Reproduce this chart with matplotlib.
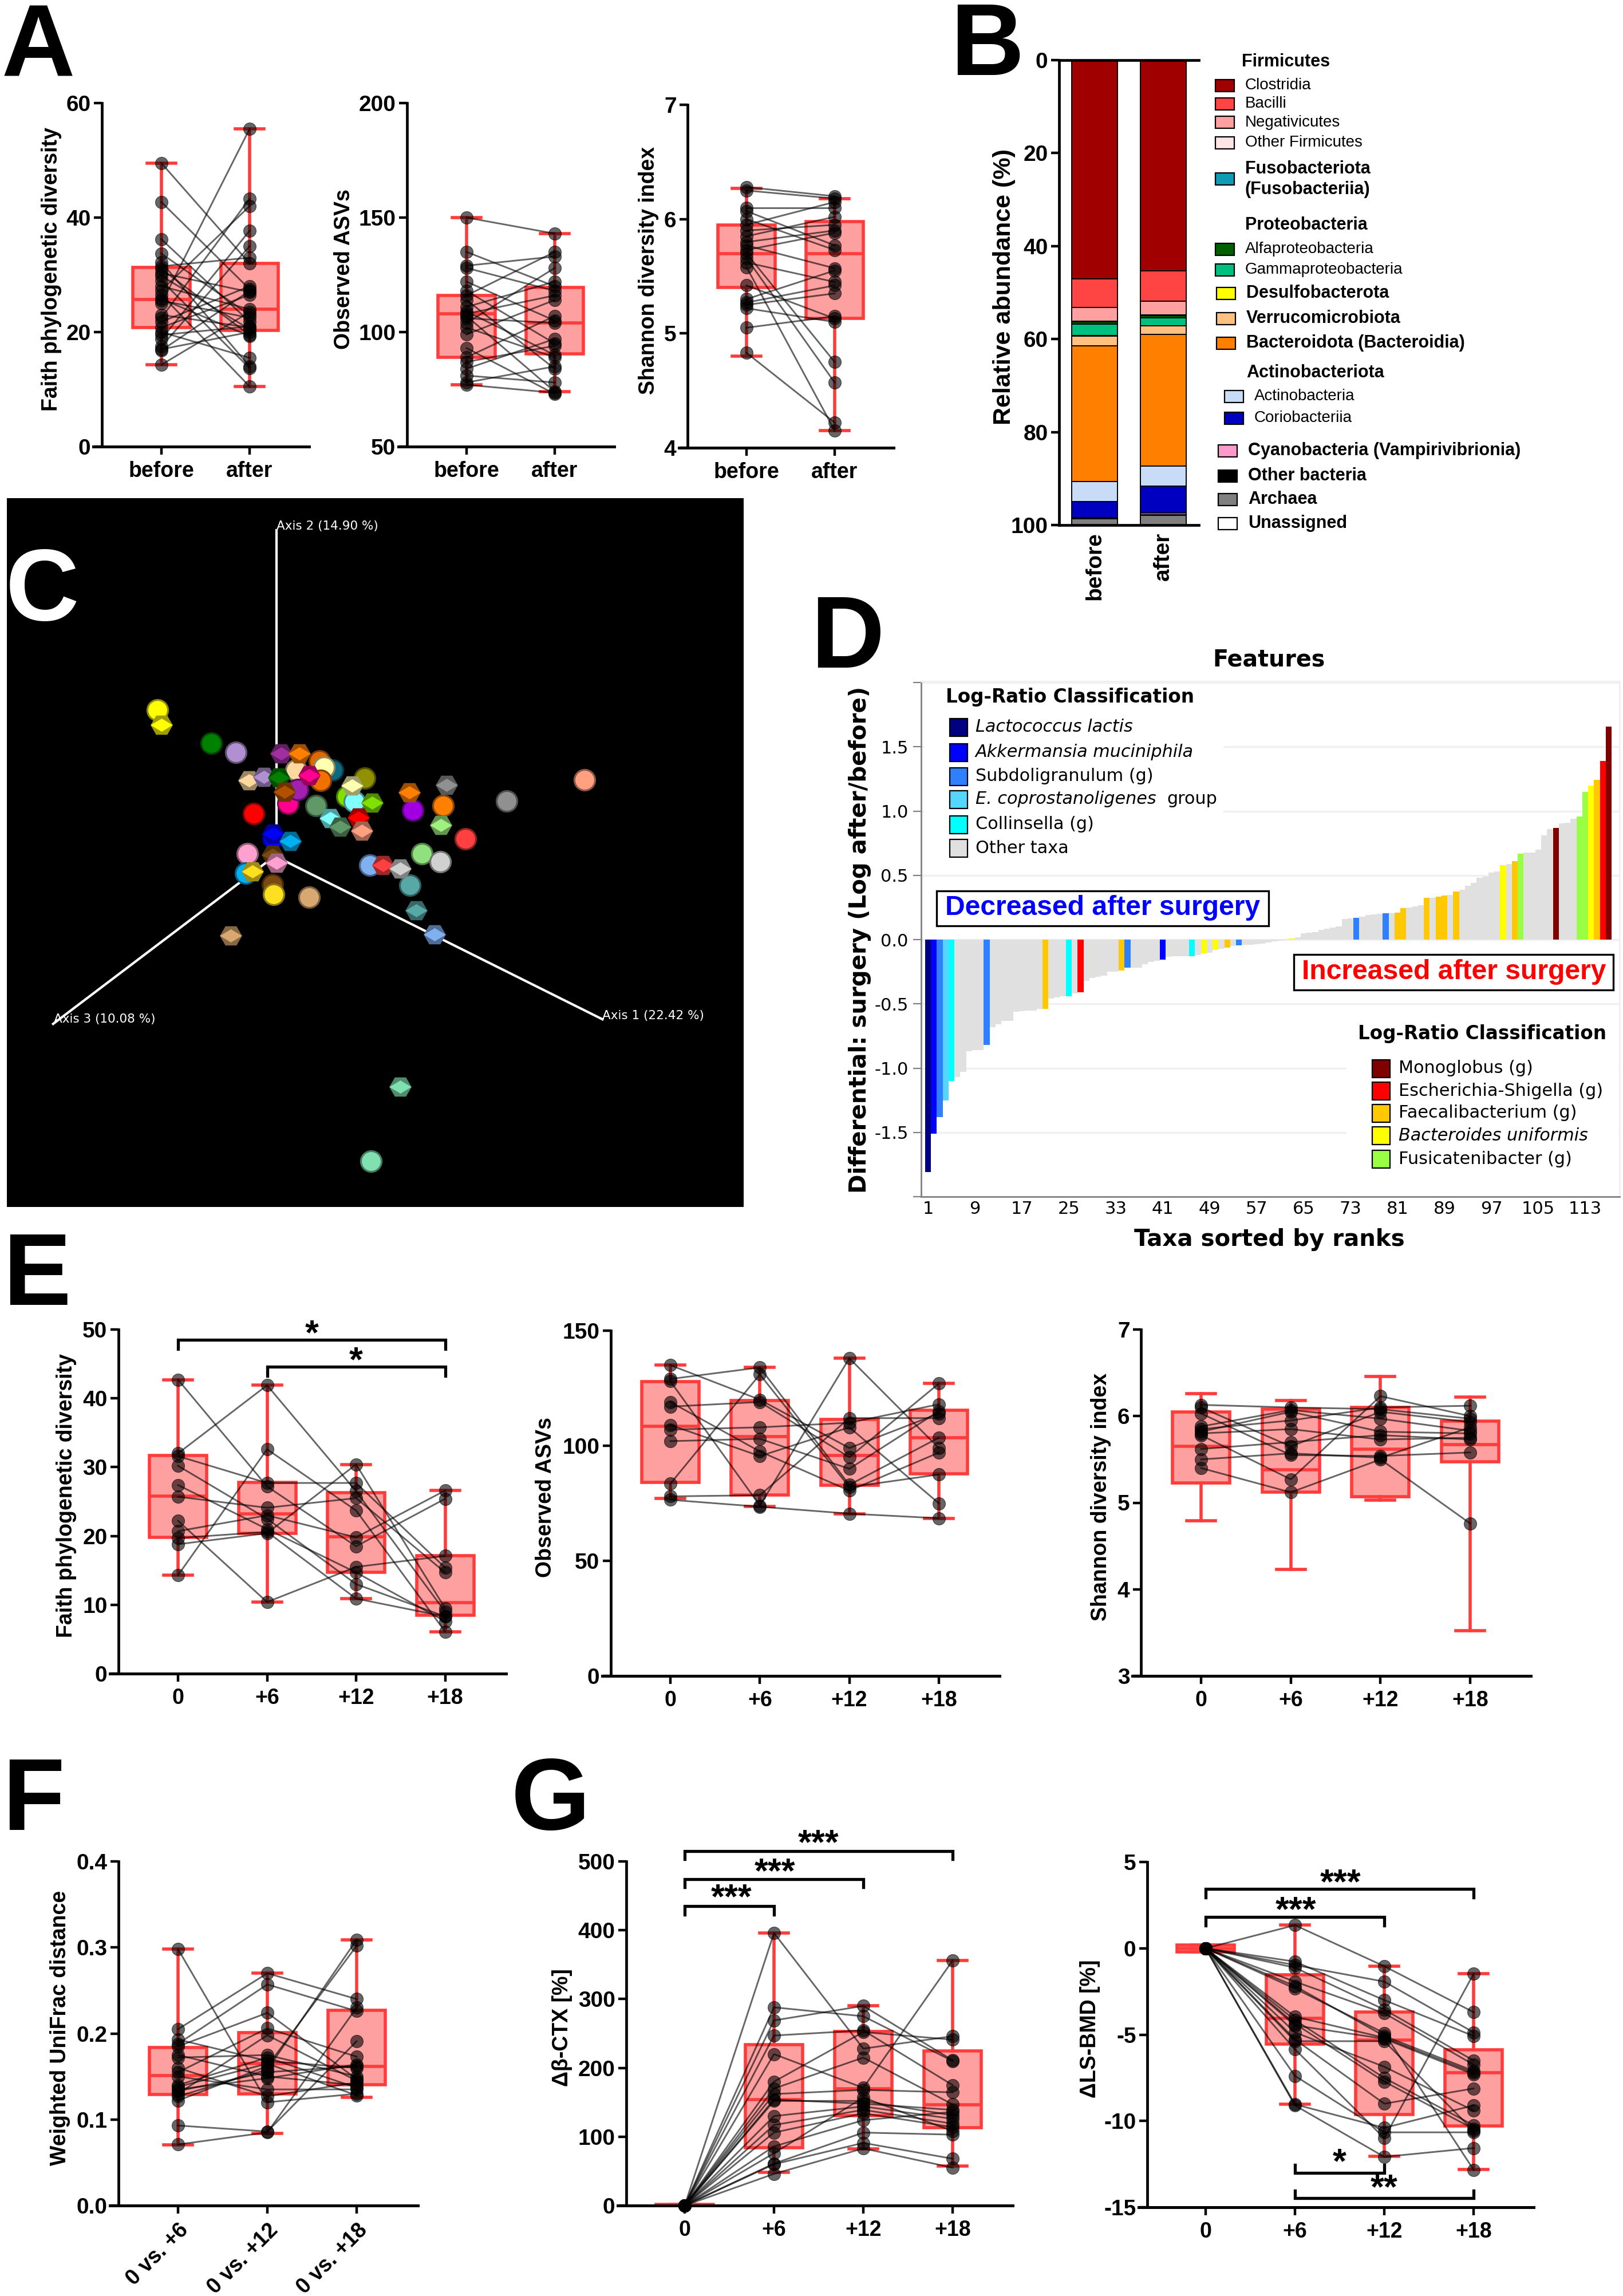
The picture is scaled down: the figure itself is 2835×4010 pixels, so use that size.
import numpy as np
import matplotlib
matplotlib.use("Agg")
import matplotlib.pyplot as plt
from matplotlib.colors import to_rgb
from matplotlib.patches import Rectangle
from matplotlib.path import Path
from matplotlib.transforms import ScaledTranslation

plt.rcParams["font.family"] = ["Liberation Sans", "DejaVu Sans"]

W, H = 2835, 4010
RED = "#FF3C3C"
FILL = "#FFA0A0"

# ---- panel A
groups_ab = ["before", "after"]
faith_before = [49.5, 42.7, 36.2, 33.7, 32.2, 31.5, 31.0, 30.3, 29.8, 29.0, 28.0, 27.3, 26.5, 25.8,
                25.5, 25.0, 23.0, 22.5, 21.8, 20.8, 20.0, 19.5, 18.8, 17.5, 17.0, 16.8, 14.3]
faith_after = [32.0, 27.5, 21.8, 23.0, 14.0, 33.0, 19.5, 27.0, 20.5, 13.7, 24.0, 42.0, 10.5, 19.3,
               22.5, 55.5, 20.8, 43.3, 28.0, 26.5, 15.5, 21.0, 37.7, 35.0, 20.0, 27.2, 23.5]
faith_box = [[20.8, 25.7, 31.3, 14.3, 49.5], [20.3, 24.0, 32.0, 10.5, 55.5]]
asv_before = [150, 135, 129, 128, 122, 118, 116, 114, 111, 109, 108, 107, 106, 104, 102, 99, 93, 89,
              87, 84, 81, 78, 77]
asv_after = [143, 120, 133, 118, 105, 95, 135, 84, 122, 90, 116, 74, 104, 128, 89, 114, 73, 107, 94,
             97, 78, 85, 73.5]
asv_box = [[89, 108, 116, 77, 150], [90.5, 104, 119.5, 74, 143]]
shannon_before = [6.28, 6.25, 6.10, 6.07, 6.00, 5.95, 5.90, 5.85, 5.80, 5.77, 5.73, 5.70, 5.66, 5.62,
                  5.58, 5.42, 5.30, 5.27, 5.25, 5.22, 5.05, 4.83]
shannon_after = [6.20, 6.18, 6.10, 5.77, 5.73, 6.15, 5.95, 6.02, 5.90, 5.57, 5.88, 4.75, 4.57, 5.45,
                 4.15, 5.13, 5.55, 5.42, 5.35, 5.10, 5.15, 4.22]
shannon_box = [[5.40, 5.70, 5.95, 4.80, 6.27], [5.13, 5.70, 5.98, 4.15, 6.18]]

# ---- panel B
taxa_colors = ["#A00000", "#FF4444", "#FFA0A0", "#FFE4E4", "#0E9BB5", "#006000", "#00C080", "#FFFF00",
               "#FFC080", "#FF8000", "#C8DCF8", "#0000C0", "#FF99CC", "#000000", "#808080", "#FFFFFF"]
taxa_before = [47.1, 6.1, 3.0, 0.1, 0.0, 0.5, 2.4, 0.1, 2.1, 29.3, 4.3, 3.4, 0.1, 0.2, 1.3, 0.0]
taxa_after = [45.3, 6.6, 2.9, 0.1, 0.0, 0.5, 1.7, 0.1, 1.8, 28.3, 4.3, 5.8, 0.4, 0.1, 2.1, 0.0]

# ---- panel C (ordination, read in zoomed picture units)
sphere_x = [327, 438, 489, 663, 690, 672, 614, 757, 665, 1213, 1051, 919, 856, 597, 655, 526, 720, 735,
            618, 966, 875, 913, 767, 513, 509, 850, 567, 565, 568, 641, 770]
sphere_y = [473, 545, 565, 583, 603, 597, 603, 621, 626, 625, 671, 680, 690, 676, 681, 698, 661, 672,
            645, 753, 785, 803, 810, 785, 827, 853, 752, 852, 873, 880, 1454]
sphere_c = ["#FFFF00", "#008000", "#B090D0", "#E06800", "#106880", "#FFFFB0", "#FFD8A0", "#909000",
            "#F07000", "#FFA080", "#909090", "#FF8000", "#A000E0", "#FF0090", "#609868", "#FF0000",
            "#80E000", "#80FFFF", "#A020B0", "#FF4040", "#90E080", "#D0D0D0", "#80B0F0", "#FFA0D0",
            "#00B0F0", "#58A8A8", "#0000FF", "#7A4A10", "#FFE020", "#D8A870", "#80E0B0"]
hex_x = [335, 583, 621, 517, 548, 578, 641, 730, 590, 849, 926, 772, 914, 685, 706, 743, 751, 567, 602,
         565, 573, 524, 795, 830, 863, 902, 479, 830]
hex_y = [505, 567, 567, 626, 618, 620, 615, 637, 650, 652, 636, 674, 723, 708, 727, 706, 735, 742, 758,
         787, 805, 823, 810, 817, 908, 960, 963, 1292]
hex_c = ["#FFFF00", "#A030A0", "#FF8000", "#FFD8A0", "#B090D0", "#008000", "#FF0090", "#FFFFB0",
         "#B05000", "#FF8000", "#909090", "#80E000", "#A0F080", "#80FFFF", "#609868", "#FF0000",
         "#FFA080", "#0000FF", "#00B0F0", "#7A4A10", "#FFA0D0", "#FFE020", "#FF4040", "#D0D0D0",
         "#58A8A8", "#80B0F0", "#D8A870", "#80E0B0"]

# ---- panel D
rank_values = [-1.81, -1.51, -1.38, -1.25, -1.10, -1.07, -1.03, -0.87, -0.86, -0.86, -0.82, -0.68, -0.66,
               -0.63, -0.63, -0.56, -0.555, -0.55, -0.55, -0.54, -0.54, -0.46, -0.45, -0.44, -0.44, -0.42,
               -0.41, -0.32, -0.30, -0.29, -0.28, -0.25, -0.25, -0.24, -0.22, -0.22, -0.22, -0.19, -0.175,
               -0.165, -0.155, -0.135, -0.13, -0.13, -0.13, -0.13, -0.12, -0.105, -0.10, -0.08, -0.07,
               -0.06, -0.05, -0.045, -0.04, -0.04, -0.035, -0.03, -0.02, -0.015, -0.01, -0.005, 0.01, 0.02,
               0.05, 0.055, 0.06, 0.075, 0.085, 0.095, 0.105, 0.16, 0.165, 0.17, 0.18, 0.19, 0.195, 0.20,
               0.205, 0.205, 0.21, 0.245, 0.25, 0.26, 0.27, 0.325, 0.325, 0.335, 0.345, 0.35, 0.375, 0.39,
               0.42, 0.44, 0.48, 0.49, 0.52, 0.53, 0.58, 0.59, 0.61, 0.67, 0.68, 0.68, 0.70, 0.81, 0.86,
               0.87, 0.905, 0.91, 0.94, 0.96, 1.15, 1.20, 1.245, 1.39, 1.66]
rank_classes = {1: "#000080", 2: "#0000FF", 3: "#2F7FFF", 4: "#55D5FF", 5: "#00FFFF", 11: "#2F7FFF",
                21: "#FFC800", 25: "#00FFFF", 27: "#FF0000", 34: "#FFC800", 35: "#2F7FFF", 41: "#0000FF",
                46: "#00FFFF", 48: "#FFFF00", 50: "#FFFF00", 52: "#FFC800", 54: "#2F7FFF", 63: "#FFFF00",
                74: "#2F7FFF", 79: "#2F7FFF", 81: "#FFC800", 82: "#FFC800", 86: "#FFC800", 88: "#FFC800",
                89: "#FFC800", 91: "#FFC800", 99: "#FFFF00", 101: "#FFC800", 102: "#99FF44", 108: "#800000",
                112: "#99FF44", 113: "#99FF44", 114: "#FFFF00", 115: "#FFC800", 116: "#FF0000", 117: "#800000"}
rank_ticks = [1, 9, 17, 25, 33, 41, 49, 57, 65, 73, 81, 89, 97, 105, 113]

# ---- panels E and G (one column per time point, same subject order)
times = ["0", "+6", "+12", "+18"]
faith_cols = [[42.7, 32.0, 31.6, 30.2, 27.4, 25.7, 22.2, 20.7, 19.7, 18.8, 14.3],
              [27.2, 41.9, 27.7, 22.5, 21.0, 24.1, 10.4, 23.0, 20.6, 20.4, 32.6],
              [18.5, 26.5, 27.7, 13.0, 14.7, 25.5, 15.5, 19.8, 10.9, 30.4, 23.7],
              [25.4, 9.0, 15.4, 8.3, 7.6, 14.7, 17.1, 26.6, 8.3, 9.5, 6.1]]
faith_boxes = [[19.8, 25.8, 31.7, 14.3, 42.7], [20.4, 23.2, 27.8, 10.4, 41.9],
               [14.7, 19.9, 26.3, 10.9, 30.4], [8.5, 10.3, 17.1, 6.1, 26.6]]
asv_cols = [[135, 129, 128, 119, 117, 109, 107, 102, 83.5, 78, 76.5],
            [120, 134, 74, 97.5, 119, 95.5, 108, 103, 131, 78.5, 73.5],
            [99, 83, 138, 80.5, 95, 108, 110, 90, 82, 112, 70.5],
            [114, 103.5, 99, 97, 127, 75, 118, 115, 87.5, 112, 68.5]]
asv_boxes = [[84, 108.5, 127.9, 77, 135], [78.7, 103.9, 119.7, 73.6, 134],
             [82.9, 95.7, 111.4, 70.4, 138], [87.8, 103.6, 115.4, 68.5, 127]]
shannon_cols = [[6.13, 6.10, 6.03, 5.88, 5.85, 5.82, 5.80, 5.78, 5.62, 5.50, 5.40],
                [6.10, 5.65, 5.55, 6.07, 5.95, 6.05, 5.85, 5.27, 5.70, 5.57, 5.12],
                [6.08, 6.05, 5.54, 5.97, 6.10, 5.82, 5.73, 6.23, 5.78, 5.52, 5.50],
                [5.97, 5.93, 5.58, 5.83, 6.12, 5.80, 5.75, 6.00, 5.73, 5.87, 4.76]]
shannon_boxes = [[5.23, 5.65, 6.05, 4.79, 6.26], [5.12, 5.38, 6.08, 4.23, 6.18],
                 [5.07, 5.62, 6.10, 5.03, 6.46], [5.47, 5.67, 5.94, 3.52, 6.22]]

# ---- panel F
compare = ["0 vs. +6", "0 vs. +12", "0 vs. +18"]
unifrac_cols = [[.298, .205, .193, .188, .185, .175, .172, .16, .155, .15, .14, .138, .135, .133, .13, .127,
                 .122, .093, .071],
                [.120, .270, .168, .257, .224, .150, .175, .127, .206, .135, .172, .165, .148, .155, .198,
                 .158, .162, .086, .085],
                [.130, .240, .160, .226, .147, .140, .150, .143, .173, .135, .137, .128, .164, .162, .145,
                 .309, .302, .191, .230]]
unifrac_boxes = [[.129, .151, .184, .0705, .298], [.130, .165, .201, .084, .27], [.1405, .162, .227, .126, .309]]

# ---- panel G
ctx_cols = [[0] * 18,
            [396, 288, 269, 247, 220, 180, 170, 162, 154, 152, 130, 117, 106, 86, 76, 61, 60, 46],
            [228, 275, 290, 254.5, 171, 252, 215, 168, 148, 152, 144, 139, 134, 124, 157, 106, 91, 83],
            [246, 210, 211, 175, 356, 241, 147, 164.5, 139, 131, 126, 119, 114, 136, 108, 103, 68, 55]]
ctx_boxes = [[0, 0, 2, 0, 2], [84, 154, 234, 48, 396], [131, 169.5, 252.5, 82.5, 290], [113, 146.6, 224.5, 57, 356]]
bmd_cols = [[0] * 18,
            [1.34, -.77, -.97, -1.12, -1.93, -2.19, -2.33, -3.96, -4.16, -4.37, -4.47, -4.87, -5.28, -5.38,
             -5.85, -7.39, -9.04, -9.1],
            [-1.04, -3.00, -1.93, -3.55, -3.76, -5.08, -4.91, -5.18, -7.51, -7.72, -5.24, -6.86, -9.00, -5.38,
             -11.0, -10.66, -10.40, -12.08],
            [-3.70, -5.08, -4.87, -6.50, -6.74, -7.10, -12.83, -7.20, -10.25, -10.46, -7.30, -9.40, -8.12,
             -10.56, -1.48, -10.66, -9.10, -11.57]]
bmd_boxes = [[-.2, 0, .2, -.2, .2], [-5.54, -4.06, -1.54, -9.04, 1.34], [-9.64, -5.32, -3.7, -12.04, -1.04],
             [-10.3, -7.2, -5.89, -12.8, -1.48]]

fig = plt.figure(figsize=(W / 100, H / 100), dpi=100, facecolor="white")


def px_axes(x0, y_top, x1, y_bot, **kw):
    return fig.add_axes([x0 / W, 1 - y_bot / H, (x1 - x0) / W, (y_bot - y_top) / H], **kw)


def paired_panel(spine_x, end_x, y_top, y_bot, yrange, centers, columns, boxes, ticks, labels, ylabel, label_x,
                 box_px=100, tick_size=27):
    ax = px_axes(spine_x, y_top, end_x, y_bot)
    dc = centers[1] - centers[0]
    pos = np.arange(len(columns))
    ax.set_xlim((spine_x - centers[0]) / dc, (end_x - centers[0]) / dc)
    ax.set_ylim(*yrange)
    ax.patch.set_alpha(0)

    stats = [dict(q1=b[0], med=b[1], q3=b[2], whislo=b[3], whishi=b[4], fliers=[]) for b in boxes]
    art = dict(color=RED, linewidth=4.0)
    ax.bxp(stats, positions=pos, widths=box_px / dc, patch_artist=True, showfliers=False, manage_ticks=False,
           capwidths=50 / dc, zorder=2,
           boxprops=dict(facecolor=FILL, edgecolor=RED, linewidth=4.0),
           medianprops=art, whiskerprops=art, capprops=art)
    for b in ax.patches:
        b.set_clip_on(False)

    mat = np.array(columns, dtype=float)
    ax.plot(pos, mat, color="black", alpha=0.6, lw=2.1, zorder=3, clip_on=False)
    for i, col in enumerate(columns):
        ax.scatter([i] * len(col), col, s=250, color="black", alpha=0.6, lw=0.8, zorder=4, clip_on=False)

    for s in ("top", "right"):
        ax.spines[s].set_visible(False)
    ax.spines["left"].set_linewidth(3.4)
    ax.spines["bottom"].set_linewidth(3.6)
    ax.spines["bottom"].set_bounds((spine_x - 15 - centers[0]) / dc, (end_x - centers[0]) / dc)
    ax.set_xticks(pos)
    ax.set_xticklabels(labels, fontsize=tick_size, fontweight="bold")
    ax.set_yticks(ticks)
    ax.set_yticklabels([str(t) for t in ticks], fontsize=28, fontweight="bold")
    ax.tick_params(axis="x", length=10, width=3.2, pad=8)
    ax.tick_params(axis="y", length=10, width=3.2, pad=4)
    fig.text(label_x / W, 1 - ((y_top + y_bot) / 2 - 10) / H, ylabel, rotation=90, fontsize=27, fontweight="bold",
             ha="center", va="center")
    return ax


def bracket(ax, x0, x1, y, drop, stars, star_x, star_y):
    ax.plot([x0, x0, x1, x1], [y - drop, y, y, y - drop], color="black", lw=3.8, clip_on=False, zorder=5,
            solid_joinstyle="miter")
    ax.annotate(stars, (star_x, star_y), xytext=(0, -6), textcoords="offset points", fontsize=44,
                fontweight="bold", ha="center", va="center", annotation_clip=False)


# panel A
ax = paired_panel(178, 540, 180, 780, (0, 60), [282, 436], [faith_before, faith_after], faith_box,
                  [0, 20, 40, 60], groups_ab, "Faith phylogenetic diversity", 90)
ax = paired_panel(711, 1073, 180, 780, (50, 200), [815, 969], [asv_before, asv_after], asv_box,
                  [50, 100, 150, 200], groups_ab, "Observed ASVs", 601)
ax = paired_panel(1201, 1561, 183, 782, (4, 7), [1304, 1458], [shannon_before, shannon_after], shannon_box,
                  [4, 5, 6, 7], groups_ab, "Shannon diversity index", 1133)

# panel B
ax = px_axes(1850, 105, 2094, 917)
ax.set_xlim((1850 - 1912) / 120, (2094 - 1912) / 120)
ax.set_ylim(100, 0)
for i, vals in enumerate([taxa_before, taxa_after]):
    ax.bar([i] * len(vals), vals, bottom=np.cumsum([0] + vals[:-1]), width=80 / 120, color=taxa_colors,
           edgecolor="black", linewidth=1.4)
ax.spines["right"].set_visible(False)
ax.spines["left"].set_linewidth(3.4)
ax.spines["bottom"].set_linewidth(3.4)
ax.spines["top"].set_linewidth(3.4)
ax.set_xticks([0, 1])
ax.set_xticklabels(groups_ab, rotation=90, fontsize=28, fontweight="bold")
shift = ScaledTranslation(8 / 100, 0, fig.dpi_scale_trans)
for t in ax.get_xticklabels():
    t.set_transform(t.get_transform() + shift)
ax.set_yticks([0, 20, 40, 60, 80, 100])
ax.set_yticklabels(["0", "20", "40", "60", "80", "100"], fontsize=28, fontweight="bold")
ax.tick_params(axis="x", length=0, pad=9)
ax.tick_params(axis="y", length=10, width=3.2, pad=4)
fig.text(1754 / W, 1 - 501 / H, "Relative abundance (%)", rotation=90, fontsize=31, fontweight="bold",
         ha="center", va="center")

# panel C
ax = px_axes(12, 870, 1299, 2108)
ax.set_facecolor("black")
ax.set_xlim(14, 1543)
ax.set_ylim(1553, 12)
ax.set_xticks([])
ax.set_yticks([])
for s in ax.spines.values():
    s.set_visible(False)
ax.plot([573, 573], [790, 82], color="white", lw=3, zorder=1)
ax.plot([570, 110], [790, 1155], color="white", lw=3, zorder=1)
ax.plot([570, 1250], [790, 1145], color="white", lw=3, zorder=1)
ax.text(573, 73, "Axis 2 (14.90 %)", color="white", fontsize=15.5, family="DejaVu Sans", va="center")
ax.text(112, 1145, "Axis 3 (10.08 %)", color="white", fontsize=15.5, family="DejaVu Sans", va="center")
ax.text(1250, 1137, "Axis 1 (22.42 %)", color="white", fontsize=15.5, family="DejaVu Sans", va="center")
rhomb = Path([(-1, 0), (0, 0.6), (1, 0), (0, -0.6), (-1, 0)], closed=True)
for x, y, c in zip(sphere_x, sphere_y, sphere_c):
    rgb = np.array(to_rgb(c))
    ax.scatter(x, y, s=800, color=rgb * 0.55, lw=0, zorder=2)
    ax.scatter(x, y, s=560, color=rgb, lw=0, zorder=2)
for x, y, c in zip(hex_x, hex_y, hex_c):
    rgb = np.array(to_rgb(c))
    ax.scatter(x, y, s=780, marker="H", color=rgb * 0.62, lw=0, zorder=3)
    ax.scatter(x, y, s=760, marker=rhomb, color=rgb, lw=0, zorder=3)

# panel D
ax = px_axes(1609, 1190, 2829, 2090)
ranks = np.arange(1, len(rank_values) + 1)
ax.set_xlim(1 + (1609 - 1621) / 10.25, 1 + (2829 - 1621) / 10.25)
ax.set_ylim(-2.0, 2.01)
ax.bar(ranks, rank_values, width=1.0, color=[rank_classes.get(r, "#E0E0E0") for r in ranks], zorder=2)
ax.set_yticks(np.arange(-2, 2.01, 0.5))
ax.set_yticklabels(["", "-1.5", "-1.0", "-0.5", "0.0", "0.5", "1.0", "1.5", ""], fontsize=22)
ax.set_xticks(rank_ticks)
ax.set_xticklabels([str(r) for r in rank_ticks], fontsize=22)
for t in ax.get_xticklabels() + ax.get_yticklabels():
    t.set_family("DejaVu Sans")
ax.grid(axis="y", color="#F0F0F0", lw=2.5, zorder=0)
ax.set_axisbelow(True)
ax.tick_params(axis="x", length=0, pad=5)
ax.tick_params(axis="y", length=10, width=1.6, color="#808080", pad=6)
for s in ("left", "bottom"):
    ax.spines[s].set_color("#808080")
    ax.spines[s].set_linewidth(2)
for s in ("top", "right"):
    ax.spines[s].set_color("#F0F0F0")
    ax.spines[s].set_linewidth(2)

# panels E
ax = paired_panel(207, 884, 2322, 2923, (0, 50), [311, 466.5], faith_cols, faith_boxes, [0, 10, 20, 30, 40, 50],
                  times, "Faith phylogenetic diversity", 116)
bracket(ax, 0, 3, 48.5, 1.3, "*", 1.5, 49.9)
bracket(ax, 1, 3, 44.6, 1.3, "*", 2, 46.0)
ax = paired_panel(1067, 1746, 2324, 2927, (0, 150), [1171, 1327.3], asv_cols, asv_boxes, [0, 50, 100, 150],
                  times, "Observed ASVs", 953)
ax = paired_panel(1993, 2674, 2322, 2927, (3, 7), [2098, 2254.7], shannon_cols, shannon_boxes, [3, 4, 5, 6, 7],
                  times, "Shannon diversity index", 1923)

# panel F
ax = paired_panel(207, 730, 3251, 3852, (0, 0.4), [311, 467], unifrac_cols, unifrac_boxes,
                  [0.0, 0.1, 0.2, 0.3, 0.4], compare, "Weighted UniFrac distance", 105)
for t in ax.get_xticklabels():
    t.set_rotation(45)
    t.set_ha("right")
    t.set_rotation_mode("anchor")

# panel G
ax = paired_panel(1094, 1769, 3251, 3852, (0, 500), [1196, 1352], ctx_cols, ctx_boxes, [0, 100, 200, 300, 400, 500],
                  times, "\u0394\u03b2-CTX [%]", 982)
bracket(ax, 0, 3, 515, 12, "***", 1.5, 531)
bracket(ax, 0, 2, 474.5, 12, "***", 1.01, 490)
bracket(ax, 0, 1, 435, 12, "***", 0.52, 452)
ax = paired_panel(2004, 2679, 3252, 3855, (-15, 5), [2106, 2262], bmd_cols, bmd_boxes, [-15, -10, -5, 0, 5],
                  times, "\u0394LS-BMD [%]", 1904)
bracket(ax, 0, 3, 3.43, 0.5, "***", 1.51, 4.0)
bracket(ax, 0, 2, 1.8, 0.48, "***", 1.01, 2.4)
bracket(ax, 1, 2, -13.0, -0.45, "*", 1.5, -12.2)
bracket(ax, 1, 3, -14.48, -0.43, "**", 2.0, -13.7)

# overlay in picture pixels: legends, text boxes, panel letters
ov = fig.add_axes([0, 0, 1, 1], zorder=10)
ov.set_xlim(0, W)
ov.set_ylim(H, 0)
ov.axis("off")


def swatch(x, y, color, w=33, h=21):
    ov.add_patch(Rectangle((x, y - h / 2), w, h, facecolor=color, edgecolor="black", linewidth=1.6))


def label(x, y, s, size=22, weight="bold", **kw):
    ov.text(x, y, s, fontsize=size, fontweight=weight, va="center", **kw)


for s, x, y, c in [("A", 3, 132, "black"), ("B", 1660, 131, "black"), ("C", 10, 1083, "white"),
                   ("D", 1416, 1166, "black"), ("E", 5, 2279, "black"), ("F", 4, 3196, "black"),
                   ("G", 893, 3195, "black")]:
    ov.text(x, y, s, fontsize=128, fontweight="bold", color=c, va="baseline", ha="left")

# legend of panel B
label(2169, 108, "Firmicutes")
for y, c, s in [(149, taxa_colors[0], "Clostridia"), (181, taxa_colors[1], "Bacilli"),
                (213.5, taxa_colors[2], "Negativicutes"), (249, taxa_colors[3], "Other Firmicutes")]:
    swatch(2123, y, c)
    label(2175, y, s, size=20, weight="normal")
swatch(2123, 312, taxa_colors[4])
label(2175, 295, "Fusobacteriota")
label(2175, 331, "(Fusobacteriia)")
label(2175, 393, "Proteobacteria")
for y, c, s in [(435, taxa_colors[5], "Alfaproteobacteria"), (471, taxa_colors[6], "Gammaproteobacteria")]:
    swatch(2123, y, c)
    label(2175, y, s, size=20, weight="normal")
for y, c, s in [(512, taxa_colors[7], "Desulfobacterota"), (556, taxa_colors[8], "Verrucomicrobiota"),
                (599, taxa_colors[9], "Bacteroidota (Bacteroidia)")]:
    swatch(2125, y, c)
    label(2177, y, s)
label(2177, 651, "Actinobacteriota")
for y, c, s in [(692, taxa_colors[10], "Actinobacteria"), (730, taxa_colors[11], "Coriobacteriia")]:
    swatch(2139, y, c)
    label(2191, y, s, size=20, weight="normal")
for y, c, s in [(787, taxa_colors[12], "Cyanobacteria (Vampirivibrionia)"), (831, taxa_colors[13], "Other bacteria"),
                (872, taxa_colors[14], "Archaea"), (914, taxa_colors[15], "Unassigned")]:
    swatch(2128, y, c)
    label(2180, y, s)

# panel D text and legends
fig.text(2217 / W, 1 - 1152 / H, "Features", fontsize=28.5, fontweight="bold", family="DejaVu Sans", ha="center", va="center")
fig.text(2217 / W, 1 - 2165 / H, "Taxa sorted by ranks", fontsize=29, fontweight="bold", family="DejaVu Sans", ha="center", va="center")
fig.text(1502 / W, 1 - 1641 / H, "Differential: surgery (Log after/before)", rotation=90, fontsize=29,
         fontweight="bold", family="DejaVu Sans", ha="center", va="center")
ov.add_patch(Rectangle((1615, 1202), 522, 303, facecolor="white", edgecolor="none"))
ov.add_patch(Rectangle((2352, 1780), 475, 270, facecolor="white", edgecolor="none"))
label(1652, 1218, "Log-Ratio Classification", size=23.5, family="DejaVu Sans")
for y, c, s, st in [(1270, "#000080", "Lactococcus lactis", "italic"), (1314, "#0000FF", "Akkermansia muciniphila", "italic"),
                    (1356, "#2F7FFF", "Subdoligranulum (g)", "normal"), (1396, "#55D5FF", "E. coprostanoligenes", "italic"),
                    (1440, "#00FFFF", "Collinsella (g)", "normal"), (1481, "#E0E0E0", "Other taxa", "normal")]:
    swatch(1659, y, c, w=31, h=31)
    label(1704, y, s, size=21.8, weight="normal", style=st, family="DejaVu Sans")
label(2038, 1396, "group", size=21.8, weight="normal", family="DejaVu Sans")
label(2372, 1806, "Log-Ratio Classification", size=23.5, family="DejaVu Sans")
for y, c, s, st in [(1866, "#800000", "Monoglobus (g)", "normal"), (1905, "#FF0000", "Escherichia-Shigella (g)", "normal"),
                    (1944, "#FFC800", "Faecalibacterium (g)", "normal"), (1983, "#FFFF00", "Bacteroides uniformis", "italic"),
                    (2024, "#99FF44", "Fusicatenibacter (g)", "normal")]:
    swatch(2397, y, c, w=31, h=31)
    label(2443, y, s, size=21.8, weight="normal", style=st, family="DejaVu Sans")
ov.add_patch(Rectangle((1636, 1556), 580, 61, facecolor="white", edgecolor="black", linewidth=2.4))
ov.text(1926, 1586, "Decreased after surgery", color="#0000FF", fontsize=34.6, fontweight="bold", ha="center", va="center")
ov.add_patch(Rectangle((2260, 1667), 558, 62, facecolor="white", edgecolor="black", linewidth=2.4))
ov.text(2540, 1697, "Increased after surgery", color="#FF0000", fontsize=34.6, fontweight="bold", ha="center", va="center")

fig.savefig("out.png", dpi=100)
